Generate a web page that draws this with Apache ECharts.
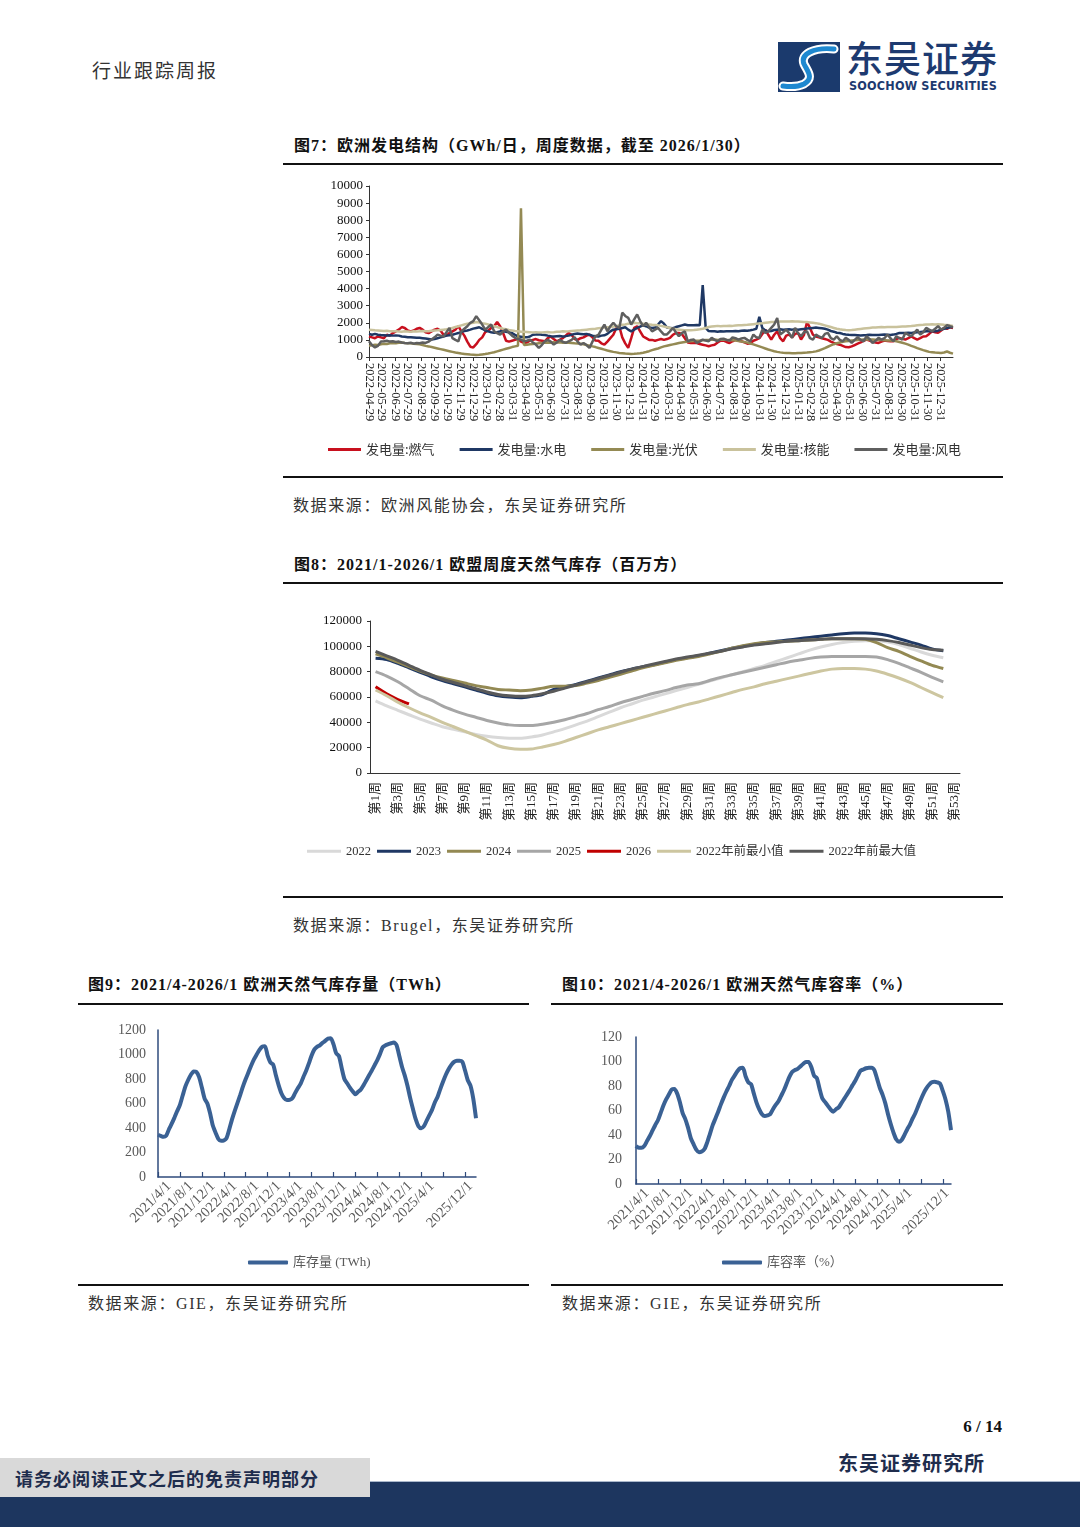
<!DOCTYPE html>
<html><head><meta charset="utf-8">
<script src="https://cdn.jsdelivr.net/npm/echarts@6/dist/echarts.min.js"></script>
<style>
body{margin:0;background:#fff;}
#page{position:relative;width:1080px;height:1527px;overflow:hidden;background:#fff;font-family:"Liberation Serif","Noto Sans CJK SC",serif;color:#1a1a1a;}
.abs{position:absolute;white-space:nowrap;}
.title{font-weight:bold;font-size:16px;letter-spacing:1px;line-height:20px;color:#111;}
.src{font-size:16px;letter-spacing:1.6px;line-height:20px;color:#333;}
.rule{position:absolute;height:1.5px;background:#111;}
.chart{position:absolute;}
</style></head>
<body><div id="page">
<div class="abs" style="left:92px;top:59px;font-size:19px;line-height:22px;letter-spacing:2px;color:#333;font-family:'Noto Sans CJK SC',sans-serif;">行业跟踪周报</div>
<svg class="abs" style="left:778px;top:42px" width="62" height="50" viewBox="0 0 62 50">
 <rect x="0" y="0" width="62" height="50" fill="#1b3a6d"/>
 <path d="M56 7 C36 5 22 12 26 22 C30 30 36 36 26 42 C20 45 12 45 5 44" fill="none" stroke="#ffffff" stroke-width="9" stroke-linecap="round"/>
 <path d="M56 7 C36 5 22 12 26 22 C30 30 36 36 26 42 C20 45 12 45 5 44" fill="none" stroke="#1e88d0" stroke-width="5" stroke-linecap="round"/>
</svg>
<div class="abs" style="left:846px;top:35px;font-size:37px;line-height:44px;letter-spacing:1px;color:#1d3a70;font-family:'Noto Sans CJK SC',sans-serif;font-weight:500;">东吴证券</div>
<div class="abs" style="left:849px;top:78px;font-size:12.5px;line-height:15px;font-weight:bold;color:#1d3a70;font-family:'DejaVu Sans Condensed','Liberation Sans',sans-serif;letter-spacing:0.2px;">SOOCHOW SECURITIES</div>

<div class="abs title" style="left:294px;top:136px;">图7：欧洲发电结构（GWh/日，周度数据，截至 2026/1/30）</div>
<div class="rule" style="left:283px;top:163px;width:720px;"></div>
<div id="c7" class="chart" style="left:283px;top:170px;width:720px;height:300px;"></div>
<div class="rule" style="left:283px;top:476px;width:720px;"></div>
<div class="abs src" style="left:293px;top:496px;">数据来源：欧洲风能协会，东吴证券研究所</div>

<div class="abs title" style="left:294px;top:555px;">图8：2021/1-2026/1 欧盟周度天然气库存（百万方）</div>
<div class="rule" style="left:283px;top:582px;width:720px;"></div>
<div id="c8" class="chart" style="left:283px;top:600px;width:720px;height:290px;"></div>
<div class="rule" style="left:283px;top:896px;width:720px;"></div>
<div class="abs src" style="left:293px;top:916px;">数据来源：Brugel，东吴证券研究所</div>

<div class="abs title" style="left:88px;top:975px;">图9：2021/4-2026/1 欧洲天然气库存量（TWh）</div>
<div class="rule" style="left:78px;top:1003px;width:451px;"></div>
<div id="c9" class="chart" style="left:78px;top:1010px;width:451px;height:272px;"></div>
<div class="rule" style="left:78px;top:1284px;width:451px;"></div>
<div class="abs src" style="left:88px;top:1294px;">数据来源：GIE，东吴证券研究所</div>

<div class="abs title" style="left:562px;top:975px;">图10：2021/4-2026/1 欧洲天然气库容率（%）</div>
<div class="rule" style="left:551px;top:1003px;width:452px;"></div>
<div id="c10" class="chart" style="left:551px;top:1010px;width:452px;height:272px;"></div>
<div class="rule" style="left:551px;top:1284px;width:452px;"></div>
<div class="abs src" style="left:562px;top:1294px;">数据来源：GIE，东吴证券研究所</div>

<div class="abs" style="right:78px;top:1416px;font-size:17px;line-height:22px;font-weight:bold;color:#111;">6 / 14</div>
<div class="abs" style="left:838px;top:1451px;font-size:20px;line-height:24px;font-weight:bold;letter-spacing:1px;color:#1f2d4d;font-family:'Noto Sans CJK SC',sans-serif;">东吴证券研究所</div>
<div class="abs" style="left:0;top:1481px;width:1080px;height:1px;background:#aab8cc;"></div>
<div class="abs" style="left:0;top:1482px;width:1080px;height:45px;background:#1d365f;"></div>
<div class="abs" style="left:0;top:1458px;width:370px;height:39px;background:#d9d9d9;"></div>
<div class="abs" style="left:15px;top:1466px;font-size:18px;line-height:24px;font-weight:bold;letter-spacing:1px;color:#1f2d4d;font-family:'Noto Sans CJK SC',sans-serif;">请务必阅读正文之后的免责声明部分</div>
</div>
<script>
// ---------- Figure 7: weekly generation, GWh/day, week index from 2022-04-29 ----------
const genStart = '2022-04-29';
const genTickLabels = ['2022-04-29','2022-05-29','2022-06-29','2022-07-29','2022-08-29','2022-09-29','2022-10-29','2022-11-29','2022-12-29','2023-01-29','2023-02-28','2023-03-31','2023-04-30','2023-05-31','2023-06-30','2023-07-31','2023-08-31','2023-09-30','2023-10-31','2023-11-30','2023-12-31','2024-01-31','2024-02-29','2024-03-31','2024-04-30','2024-05-31','2024-06-30','2024-07-31','2024-08-31','2024-09-30','2024-10-31','2024-11-30','2024-12-31','2025-01-31','2025-02-28','2025-03-31','2025-04-30','2025-05-31','2025-06-30','2025-07-31','2025-08-31','2025-09-30','2025-10-31','2025-11-30','2025-12-31'];
const genEnd = '2026-01-30';
const genNames = ['发电量:燃气','发电量:水电','发电量:光伏','发电量:核能','发电量:风电'];
const genGas = [1200,1150,1100,1200,1150,1100,1300,1250,1400,1500,
1600,1750,1700,1550,1500,1550,1650,1700,1600,1450,
1400,1500,1600,1650,1550,1300,1250,1400,1500,1600,
1800,1500,1250,900,600,560,750,1000,1150,1450,
1550,1700,1800,2050,1800,1400,950,900,950,1000,
1050,900,820,850,950,1000,1050,980,950,920,
1100,1200,1050,920,1000,1100,1250,1400,1300,1050,
1000,1100,1150,1250,1300,1150,960,950,800,720,
900,1100,1300,1700,1800,1150,800,530,1100,1700,
1800,1500,1200,1100,1000,1000,950,1000,1050,1000,
1050,1120,1300,1400,1400,1350,1100,850,820,830,
820,760,720,680,630,680,720,850,950,960,
880,820,920,1000,950,920,850,780,800,950,
1020,1100,1350,1600,1300,1020,1300,1500,1100,920,
1250,1310,1150,1350,1400,1020,1300,2050,1700,1300,
1200,1150,1100,1050,1000,900,820,760,720,650,
580,570,620,700,780,850,950,1020,960,890,
850,823,900,960,940,920,920,1050,1120,1060,
1020,1100,1200,1100,1020,1100,1200,1220,1350,1500,
1450,1410,1550,1700,1650,1740,1700];
const genHydro = [1350,1300,1350,1300,1280,1270,1260,1270,1250,1260,
1250,1200,1180,1150,1150,1140,1130,1120,1100,1080,
1050,1020,1050,1100,1150,1200,1250,1270,1300,1350,
1400,1470,1520,1550,1600,1660,1700,1740,1650,1550,
1500,1450,1410,1450,1500,1500,1480,1450,1400,1300,
1210,1180,1150,1150,1200,1300,1310,1330,1300,1290,
1250,1220,1200,1220,1230,1200,1220,1250,1300,1350,
1370,1350,1330,1350,1300,1250,1220,1200,1250,1270,
1350,1500,1600,1620,1650,1700,1740,1600,1500,1600,
1700,1780,1860,1800,1720,1700,1720,1900,2100,1950,
1720,1700,1680,1750,1800,1850,1900,1860,1850,1860,
1870,1850,4200,1700,1520,1500,1500,1480,1500,1490,
1500,1510,1500,1520,1500,1530,1550,1540,1560,1600,
1650,2350,1700,1550,1500,1520,1580,1600,1620,1600,
1610,1620,1600,1630,1600,1620,1640,1660,1680,1700,
1720,1700,1680,1650,1600,1520,1480,1420,1400,1350,
1320,1300,1290,1280,1270,1260,1270,1280,1300,1290,
1280,1290,1300,1310,1300,1290,1310,1350,1400,1410,
1400,1420,1410,1430,1450,1460,1480,1500,1500,1520,
1510,1540,1600,1650,1700,1740,1760];
const genSolar = [650,680,720,700,750,780,760,800,820,800,
830,850,820,800,810,780,760,740,700,650,
620,580,540,500,460,420,380,340,300,260,
230,200,180,160,140,130,120,130,150,170,
200,240,280,330,380,430,480,530,580,620,
660,8700,700,720,740,760,780,800,820,830,
850,840,860,850,860,840,850,830,820,800,
790,770,740,700,660,620,580,530,480,430,
380,340,300,270,240,220,200,190,180,185,
200,220,250,290,340,400,450,500,560,620,
660,700,740,780,820,850,880,900,920,940,
950,960,980,1000,990,1010,1020,1000,1010,1020,
1000,990,980,960,940,910,880,840,790,740,
680,620,560,500,440,390,340,300,270,250,
240,230,220,220,230,240,250,260,280,300,
330,380,450,520,600,680,750,800,850,890,
920,940,960,980,1000,1010,1020,1030,1020,1030,
1010,1000,990,980,970,960,950,920,880,830,
780,720,650,590,520,460,400,350,300,280,
260,250,240,260,320,250,200];
const genNuclear = [1600,1580,1560,1550,1540,1520,1530,1510,1500,1500,
1490,1480,1500,1490,1480,1500,1490,1500,1520,1500,
1510,1530,1550,1560,1580,1600,1620,1650,1700,1750,
1800,1850,1900,1950,1980,2000,2050,2020,1980,1950,
1900,1850,1800,1750,1700,1650,1620,1580,1550,1520,
1500,1480,1470,1460,1450,1440,1450,1430,1440,1450,
1460,1440,1450,1470,1480,1500,1490,1500,1520,1540,
1550,1560,1580,1600,1620,1640,1650,1680,1700,1720,
1740,1750,1780,1800,1850,1880,1900,1950,1980,2000,
1980,1970,1950,1920,1900,1880,1870,1850,1820,1780,
1740,1700,1660,1620,1600,1580,1560,1560,1570,1580,
1600,1620,1650,1700,1750,1780,1800,1820,1800,1810,
1820,1830,1820,1840,1850,1850,1870,1880,1900,1920,
1940,1960,1980,2000,2020,2040,2050,2060,2070,2080,
2070,2080,2090,2080,2070,2060,2050,2040,2020,2000,
1980,1950,1900,1850,1800,1750,1700,1650,1620,1600,
1580,1570,1580,1600,1620,1640,1660,1680,1700,1720,
1730,1740,1750,1740,1750,1760,1750,1760,1770,1780,
1790,1800,1810,1830,1850,1870,1880,1900,1900,1910,
1900,1920,1900,1880,1870,1850,1820];
const genWind = [920,700,560,650,900,920,950,900,920,880,
900,850,820,800,830,780,820,800,850,820,
900,1020,1150,1310,1250,1200,1450,1700,1100,1000,
920,1500,1650,1800,2000,2100,2390,2150,1900,1600,
1750,1900,1500,1400,1310,1500,1600,1410,1250,1120,
1050,1020,920,950,1020,850,725,530,700,920,
1000,900,725,850,1000,900,820,920,1000,1160,
900,725,820,700,530,900,1215,1300,1600,1900,
1500,1800,2000,1800,1700,2590,2400,2290,1900,2200,
2490,2100,1800,2000,1750,1500,1600,1700,1500,1310,
1320,1500,1700,1450,1215,1400,1500,920,1000,1020,
823,900,1020,960,920,1117,1000,920,1050,1070,
1000,960,1150,1100,1020,1080,1117,1000,920,1310,
1150,1117,1600,1410,1500,1700,1900,2280,1313,1450,
1600,1400,1117,1705,1400,1215,1450,1509,1100,1019,
1313,1200,1117,1350,1411,1100,1019,1215,1000,921,
1117,1000,823,1000,1156,1000,921,1215,1050,823,
950,1117,1019,1100,1313,1100,921,1215,1100,1019,
1411,1300,1215,1411,1607,1313,1450,1705,1600,1509,
1650,1803,1607,1700,1862,1803,1750];

// ---------- Figure 8: EU weekly gas storage (million m3) ----------
const storWeeks = Array.from({length:53}, (_, i) => '第' + (i + 1) + '周');
const storNames = ['2022','2023','2024','2025','2026','2022年前最小值','2022年前最大值'];
const stor2022 = [57000,53000,49500,46000,42500,39500,36500,34500,32500,30500,
29000,28000,27500,27500,28500,30000,32500,35000,38000,41000,
44500,48000,51500,54500,57500,60000,62500,65000,67500,70000,
72500,75000,77500,80000,82500,85000,88000,91000,94000,97000,
99500,101500,103000,104000,104500,104500,103500,101500,98500,95500,
93000,91000];
const stor2023 = [90500,89500,86500,83000,79500,76000,73000,70500,68000,65500,
63000,61000,60000,59500,60500,62000,66000,68000,70000,72500,
75000,77500,80000,82000,84000,85500,87500,89500,91000,92500,
94500,96500,98500,100000,101500,103000,104000,105000,106000,107000,
108000,109000,110000,110500,110500,110000,108500,106000,103500,101000,
98000,96500];
const stor2024 = [94000,91000,87500,84000,80500,77500,75000,73000,71000,69000,
67500,66000,65500,65000,65500,67000,68500,68500,69000,71000,
73000,75500,78000,80500,83000,85000,87000,89000,90500,92000,
94000,96000,98500,100500,102000,103000,103500,104000,104500,105000,
105500,106000,106000,106000,105500,103000,99000,96000,92000,88500,
85000,82500];
const stor2025 = [80000,76500,72000,66500,61000,57500,53000,49500,46500,44000,
41500,39500,38000,37500,37500,38500,40000,42000,44500,47000,
50000,52500,55500,58000,60500,63000,65000,67500,69500,70500,
73000,75500,77500,79500,81500,83500,85500,87500,89000,90500,
91500,92000,92000,92000,92000,91500,89500,86500,83000,79500,
75500,72000];
const stor2026 = [68000,62500,58000,54500];
const storMin = [65500,61000,56000,51500,47500,44000,40000,36500,33000,29500,
26000,21500,19500,18800,19000,20500,22500,25000,28000,31000,
34000,36500,39000,41500,44000,46500,49000,51500,54000,56000,
58500,61000,63500,66000,68000,70500,72500,74500,76500,78500,
80500,82000,82500,82500,82000,80500,78000,75000,71500,67500,
63500,59500];
const storMax = [96000,92500,89000,85000,81000,77500,74000,71500,69000,66500,
64000,62000,61000,60500,61000,62500,64500,67000,69500,72000,
74500,77000,79500,82000,84000,86000,88000,90000,91500,93000,
94500,96000,98000,99500,101000,102000,103000,104000,104500,105000,
105500,106000,106000,106000,106000,105500,104500,103000,101000,99000,
97500,97000];

// ---------- Figures 9/10: half-monthly points from 2021/4/1 ----------
const gieTickLabels = ['2021/4/1','2021/8/1','2021/12/1','2022/4/1','2022/8/1','2022/12/1','2023/4/1','2023/8/1','2023/12/1','2024/4/1','2024/8/1','2024/12/1','2025/4/1','2025/8/1','2025/12/1'];
const storageTWh = [345,335,328,338,390,435,485,538,589,665,
740,792,835,862,858,815,730,640,600,520,
420,362,312,295,298,318,390,470,540,605,
670,740,800,855,910,960,1000,1038,1065,1068,
990,935,918,830,750,684,645,628,630,642,
685,725,760,815,865,925,990,1040,1062,1075,
1095,1111,1130,1132,1085,1010,988,890,800,765,
730,700,676,695,715,750,790,830,870,912,
955,1005,1060,1075,1084,1092,1098,1078,990,900,
830,745,644,555,472,415,398,415,460,505,
550,610,655,720,780,835,880,915,940,950,
950,940,870,790,745,640,480];
const fillPct = [31,29.5,29.5,31,35,39,43.5,48,52,58,
64,69,73,77,77.5,74,67,58,53,46,
37.5,32.5,28,26,26.5,28.5,34,41,48,53.5,
59,65,70.5,75.5,80,85,88.5,92,94.5,95,
88,83,81.5,74,66.5,61,57,55.5,56,57,
61,64.5,67.5,72,76.5,82,87.5,91.5,93,94,
96,98,99.5,99.5,95.5,88.5,86.5,78,70,67,
64,61,59,61,62.5,66,69.5,73,76.5,80.5,
84,88.5,92.5,93.5,94.5,95,95,93,86,78.5,
73,66,57,49,42,36.5,34.5,36,40,44.5,
48.5,53.5,58,63.5,69,74,78,81,83,83.5,
83,82,76,69,59,44];

const serif = '"Liberation Serif","Noto Sans CJK SC",serif';
const cjk = '"Noto Sans CJK SC",sans-serif';
const plain = v => String(v);

// ---- chart 7 ----
(function(){
  const wk = 7 * 86400000, t0 = Date.parse(genStart);
  const pos = genTickLabels.map(s => (Date.parse(s) - t0) / wk);
  const maxW = (Date.parse(genEnd) - t0) / wk;
  const lab = v => { let b = 0, d = 1e9; pos.forEach((p, i) => { if (Math.abs(p - v) < d) { d = Math.abs(p - v); b = i; } }); return genTickLabels[b]; };
  const cols = ['#c8101e','#1f3864','#948a54','#c9c29c','#5f5f5f'];
  const arrs = [genGas, genHydro, genSolar, genNuclear, genWind];
  const ch = echarts.init(document.getElementById('c7'));
  ch.setOption({
    animation:false,
    grid:{left:86, top:16, right:50, bottom:113},
    legend:{left:40, top:268, icon:'rect', itemWidth:33, itemHeight:3, itemGap:25, data:genNames,
      textStyle:{fontFamily:cjk, fontSize:13, color:'#333'}},
    xAxis:{type:'value', min:0, max:maxW, splitLine:{show:false},
      axisLine:{lineStyle:{color:'#333'}},
      axisTick:{customValues:pos, length:4, lineStyle:{color:'#333'}},
      axisLabel:{customValues:pos, rotate:-90, margin:6, fontFamily:serif, fontSize:12.5, color:'#222', formatter:lab, hideOverlap:false}},
    yAxis:{type:'value', min:0, max:10000, interval:1000, splitLine:{show:false},
      axisLine:{show:true, lineStyle:{color:'#333'}},
      axisTick:{show:true, length:3, lineStyle:{color:'#333'}},
      axisLabel:{fontFamily:serif, fontSize:13, color:'#111', margin:6, formatter:plain}},
    series: genNames.map((n, k) => ({name:n, type:'line', symbol:'none', color:cols[k],
      lineStyle:{width:2.5, color:cols[k]}, data: arrs[k].map((v, i) => [i, v])}))
  });
})();

// ---- chart 8 ----
(function(){
  const cols = ['#d9d9d9','#1f3864','#938953','#a6a6a6','#c00000','#cdc6a0','#595959'];
  const arrs = [stor2022, stor2023, stor2024, stor2025, stor2026, storMin, storMax];
  const ch = echarts.init(document.getElementById('c8'));
  ch.setOption({
    animation:false,
    grid:{left:87, top:21, right:43, bottom:117},
    legend:{left:19, top:240, icon:'rect', itemWidth:34, itemHeight:3, itemGap:6, data:storNames,
      textStyle:{fontFamily:serif, fontSize:12.5, color:'#333'}},
    xAxis:{type:'category', data:storWeeks, boundaryGap:true,
      axisLine:{lineStyle:{color:'#333'}},
      axisTick:{interval:0, inside:true, length:5, lineStyle:{color:'#333'}},
      axisLabel:{interval:1, rotate:90, margin:9, fontFamily:serif, fontSize:13, color:'#222'}},
    yAxis:{type:'value', min:0, max:120000, interval:20000, splitLine:{show:false},
      axisLine:{show:true, lineStyle:{color:'#333'}},
      axisTick:{show:true, length:3, lineStyle:{color:'#333'}},
      axisLabel:{fontFamily:serif, fontSize:13, color:'#111', margin:8, formatter:plain}},
    series: storNames.map((n, k) => ({name:n, type:'line', symbol:'none', smooth:0.3, color:cols[k],
      lineStyle:{width:3, color:cols[k]}, data: arrs[k]}))
  });
})();

// ---- charts 9 & 10 ----
function gieChart(id, name, arr, yMax, yInt, xMax, grid, legendLeft, legendTop, labelMargin){
  const ticks = gieTickLabels.map((_, k) => k * 4);
  const lpos = ticks.map(t => (t + Math.min(t + 4, xMax)) / 2);
  const lab = v => { let b = 0, d = 1e9; lpos.forEach((p, i) => { if (Math.abs(p - v) < d) { d = Math.abs(p - v); b = i; } }); return gieTickLabels[b]; };
  const axisCol = '#2f4b7c', lineCol = '#3a6194';
  const ch = echarts.init(document.getElementById(id));
  ch.setOption({
    animation:false,
    grid:grid,
    legend:{left:legendLeft, top:legendTop, icon:'roundRect', itemWidth:40, itemHeight:4, data:[name],
      textStyle:{fontFamily:serif, fontSize:13, color:'#595959'}},
    xAxis:{type:'value', min:0, max:xMax, splitLine:{show:false},
      axisLine:{lineStyle:{color:axisCol, width:1.5}},
      axisTick:{customValues:ticks, inside:true, length:5, lineStyle:{color:axisCol, width:1.2}},
      axisLabel:{customValues:lpos, rotate:45, margin:7, fontFamily:serif, fontSize:14.5, color:'#595959', formatter:lab, showMinLabel:true, showMaxLabel:true, hideOverlap:false}},
    yAxis:{type:'value', min:0, max:yMax, interval:yInt, splitLine:{show:false},
      axisLine:{show:true, lineStyle:{color:axisCol, width:1.5}},
      axisTick:{show:false},
      axisLabel:{fontFamily:serif, fontSize:14, color:'#595959', margin:labelMargin, formatter:plain}},
    series:[{name:name, type:'line', symbol:'none', smooth:0.25, color:lineCol,
      lineStyle:{width:4, color:lineCol}, data: arr.map((v, i) => [i * 0.5, v])}]
  });
}
gieChart('c9', '库存量 (TWh)', storageTWh, 1200, 200, 58, {left:80, top:20, right:53, bottom:105}, 165, 241, 12);
gieChart('c10', '库容率（%）', fillPct, 120, 20, 57.5, {left:85, top:27, right:52, bottom:98}, 166, 241, 14);
</script>
</body></html>
